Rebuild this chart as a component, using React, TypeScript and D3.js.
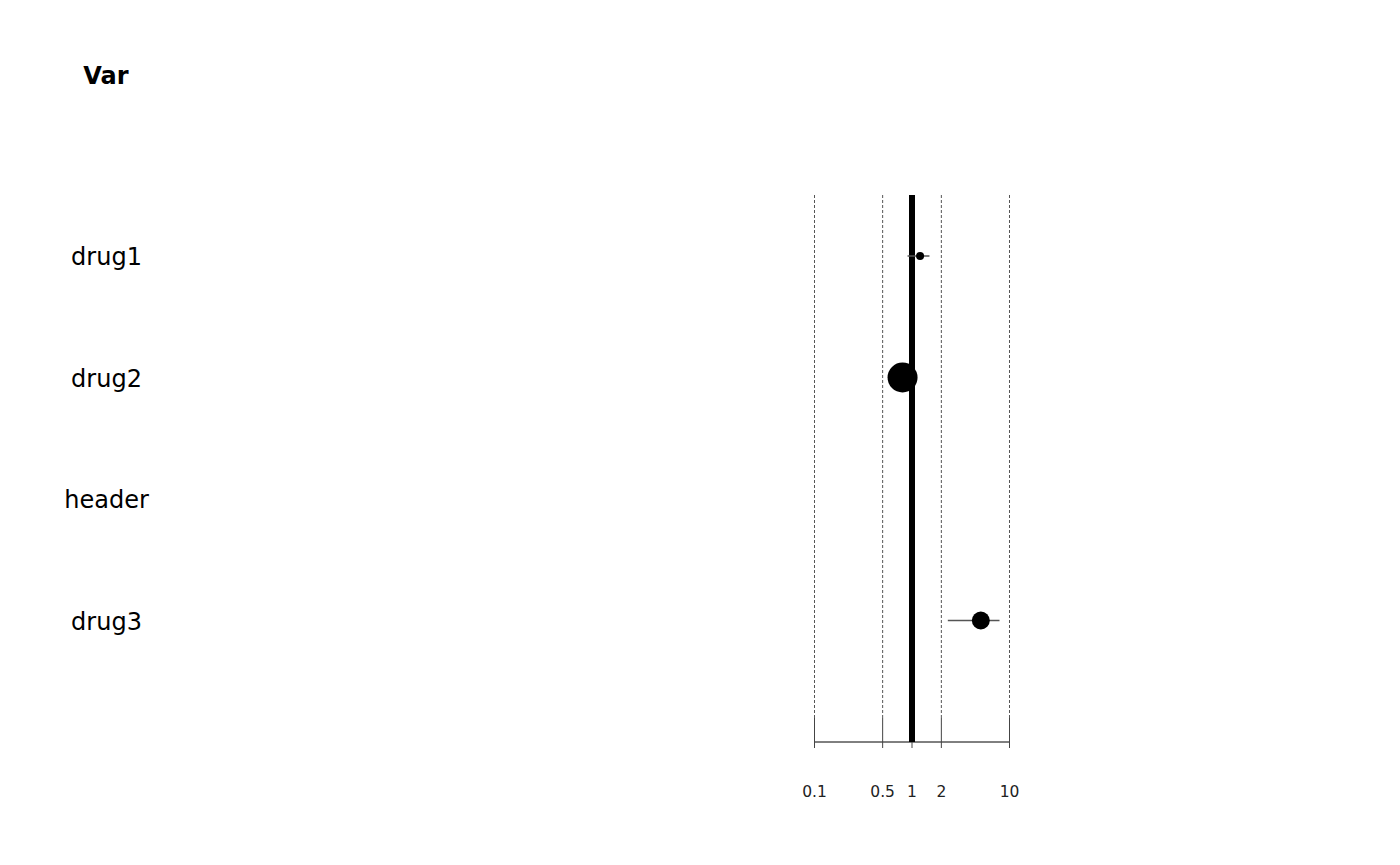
import React from 'react';
import * as d3 from 'd3';

// rows, top to bottom
const labels = ['drug1', 'drug2', 'header', 'drug3'];
const estimates = [1.21, 0.8, null, 5.08];
const lower = [0.9, 0.73, null, 2.33];
const upper = [1.51, 0.88, null, 7.9];
const sizes = [4, 15, 0, 9];
const tickValues = [0.1, 0.5, 1, 2, 10];

const W = 1400;
const H = 865;
const plotTop = 195;
const axisY = 742;
const font = '"DejaVu Sans", Verdana, sans-serif';

const App = () => {
  const x = d3.scaleLog().domain([0.1, 10]).range([814.5, 1009.5]);
  const y = d3.scalePoint().domain(labels).range([256, 620.5]);
  const labelX = 106;

  return (
    <svg width={W} height={H} style={{ position: 'absolute', left: 0, top: 0, background: '#fff' }}>
      <text x={labelX} y={84} textAnchor="middle" fontFamily={font} fontSize={24} fontWeight="bold">
        Var
      </text>
      {labels.map((l) => (
        <text key={l} x={labelX + 0.5} y={(y(l) as number) + 9} textAnchor="middle" fontFamily={font} fontSize={24}>
          {l}
        </text>
      ))}

      {/* dashed reference lines */}
      {tickValues.map((t) => (
        <line key={'g' + t} x1={x(t)} x2={x(t)} y1={plotTop} y2={718}
          stroke="#555" strokeWidth={1} strokeDasharray="3,2" />
      ))}

      {/* axis */}
      <line x1={x(0.1)} x2={x(10)} y1={axisY} y2={axisY} stroke="#000" strokeWidth={1} />
      {tickValues.map((t) => (
        <g key={'t' + t}>
          <line x1={x(t)} x2={x(t)} y1={718} y2={748} stroke="#444" strokeWidth={1} />
          <text x={x(t)} y={797} textAnchor="middle" fontFamily={font} fontSize={15.5} fill="#222">
            {t}
          </text>
        </g>
      ))}

      {/* line of no effect */}
      <line x1={x(1)} x2={x(1)} y1={plotTop} y2={axisY} stroke="#000" strokeWidth={6} />

      {labels.map((l, i) => {
        const est = estimates[i];
        if (est == null) return null;
        const cy = y(l) as number;
        return (
          <g key={'p' + l}>
            <line x1={x(lower[i] as number)} x2={x(upper[i] as number)} y1={cy} y2={cy}
              stroke="#555" strokeWidth={1.5} />
            <circle cx={x(est)} cy={cy} r={sizes[i]} fill="#000" />
          </g>
        );
      })}
    </svg>
  );
};

export default App;
